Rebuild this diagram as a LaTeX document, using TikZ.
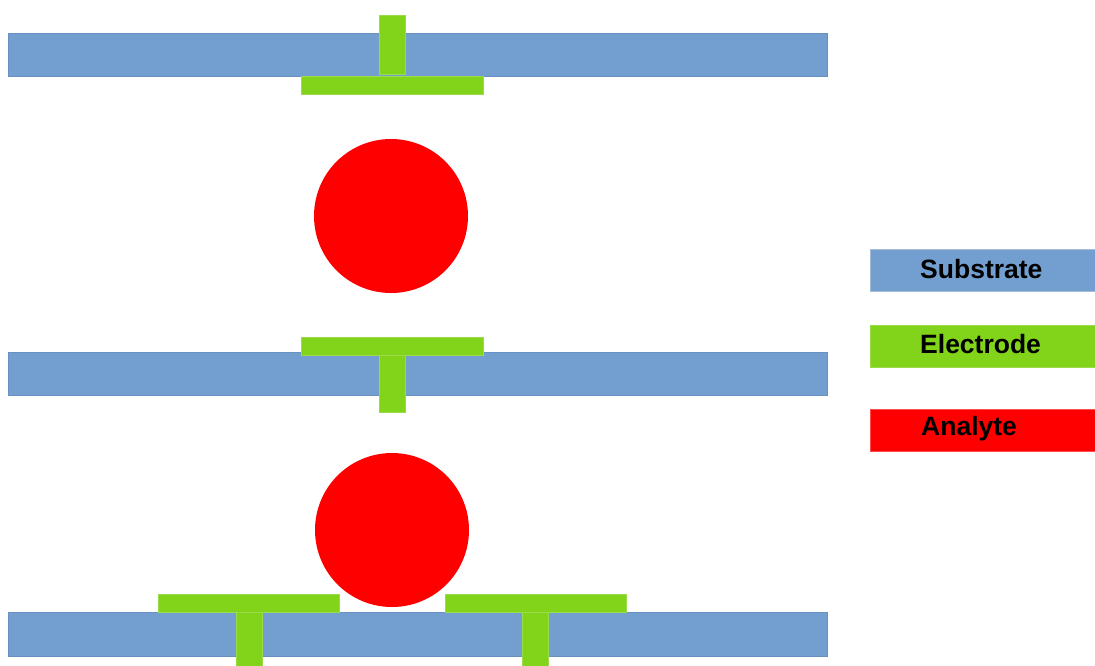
\documentclass[tikz,border=0pt]{standalone}
\usepackage{fontspec}
\setmainfont{Liberation Sans}
\usepackage{tikz}
\definecolor{SubBlue}{HTML}{729FCF}
\definecolor{SubEdge}{HTML}{6890C2}
\definecolor{ElGreen}{HTML}{81D41A}
\definecolor{ElEdge}{HTML}{9ADB4A}
\definecolor{AnRed}{HTML}{FF0000}
\tikzstyle{substrate} = [fill=SubBlue, draw=SubEdge, line width=1pt]
\tikzstyle{electrode} = [fill=ElGreen, draw=ElEdge, line width=0.6pt]
\tikzstyle{analyte} = [fill=AnRed, draw=none]
\tikzstyle{key} = [rectangle, minimum width=226pt, minimum height=42pt, inner sep=0pt, anchor=north west]
\tikzstyle{keytext} = [anchor=west, font=\fontsize{26.5}{30}\selectfont\bfseries, inner sep=0pt]

\begin{document}
\begin{tikzpicture}[x=1pt, y=-1pt]

\useasboundingbox (0,0) rectangle (1095,665);

% top plate, electrode facing down
\draw [substrate] (8,33) rectangle (827,76);
\draw [electrode] (379,15) rectangle (405,74);
\draw [electrode] (301,76) rectangle (483,94);

\fill [analyte] (391,216) circle (77);

% middle plate, electrode facing up
\draw [substrate] (8,352) rectangle (827,395);
\draw [electrode] (301,337) rectangle (483,355);
\draw [electrode] (379,355) rectangle (405,412);

\fill [analyte] (392,530) circle (77);

% bottom plate with two electrodes
\draw [substrate] (8,612) rectangle (827,656);
\draw [electrode] (158,594) rectangle (339,612);
\draw [electrode] (236,612) rectangle (262,667);
\draw [electrode] (445,594) rectangle (626,612);
\draw [electrode] (522,612) rectangle (548,667);

% legend
\node (keySub) [key, fill=SubBlue, draw=SubEdge!60] at (870,249) {};
\node (keyEl) [key, fill=ElGreen, draw=ElEdge] at (870,325) {};
\node (keyAn) [key, fill=AnRed, draw=AnRed!70] at (870,409) {};

\node (txtSub) [keytext] at (920,269) {Substrate};
\node (txtEl) [keytext] at (920,344) {Electrode};
\node (txtAn) [keytext] at (921,429) {Analyte};

\end{tikzpicture}
\end{document}
